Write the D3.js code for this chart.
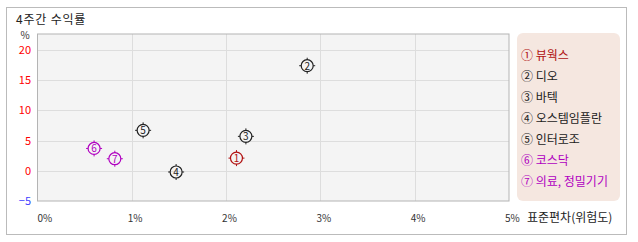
<!DOCTYPE html>
<html>
<head>
<meta charset="utf-8">
<script src="https://cdn.jsdelivr.net/npm/d3@7"></script>
<style>
  body { margin: 0; background: #fff; }
  svg { display: block; font-family: "Noto Sans CJK KR", "Noto Sans", sans-serif; }
</style>
</head>
<body>
<div id="chart"></div>
<script>
// data
const names = ["뷰웍스", "디오", "바텍", "오스템임플란", "인터로조", "코스닥", "의료, 정밀기기"];
const marks = ["①", "②", "③", "④", "⑤", "⑥", "⑦"];
const risk = [2.11, 2.86, 2.21, 1.47, 1.12, 0.60, 0.82];   // 표준편차 %
const ret = [2.1, 17.4, 5.7, -0.2, 6.7, 3.7, 2.0];          // 4주간 수익률 %
const colors = ["#b01010", "#222", "#222", "#222", "#222", "#b000c0", "#b000c0"];
const xTicks = [0, 1, 2, 3, 4, 5];
const yTicks = [-5, 0, 5, 10, 15, 20];

const width = 638, height = 242;
const plot = { left: 37.5, right: 509, top: 34, bottom: 201 };

const svg = d3.select("#chart").append("svg")
    .attr("width", width)
    .attr("height", height);

// outer frame
svg.append("rect")
    .attr("x", 6.5).attr("y", 7.5)
    .attr("width", 620).attr("height", 227)
    .attr("fill", "#fff")
    .attr("stroke", "#bbb");

svg.append("text")
    .attr("x", 16).attr("y", 24)
    .attr("font-size", 12).attr("fill", "#222")
    .attr("letter-spacing", 0.8)
    .text("4주간  수익률");

const x = d3.scaleLinear().domain([0, 5]).range([plot.left, plot.right]);
const y = d3.scaleLinear().domain([-5, 20]).range([plot.bottom, 50]);

svg.append("rect")
    .attr("x", plot.left).attr("y", plot.top)
    .attr("width", plot.right - plot.left).attr("height", plot.bottom - plot.top)
    .attr("fill", "#f4f4f4");

// grid
svg.append("g").selectAll("line")
    .data(yTicks.filter(d => d > -5))
    .join("line")
    .attr("x1", plot.left).attr("x2", plot.right)
    .attr("y1", d => Math.round(y(d)) + 0.5).attr("y2", d => Math.round(y(d)) + 0.5)
    .attr("stroke", "#ddd");

svg.append("g").selectAll("line")
    .data(xTicks.filter(d => d > 0 && d < 5))
    .join("line")
    .attr("x1", d => Math.round(x(d)) + 0.5).attr("x2", d => Math.round(x(d)) + 0.5)
    .attr("y1", plot.top).attr("y2", plot.bottom)
    .attr("stroke", "#ddd");

// plot border
svg.append("rect")
    .attr("x", plot.left).attr("y", plot.top)
    .attr("width", plot.right - plot.left).attr("height", plot.bottom - plot.top)
    .attr("fill", "none")
    .attr("stroke", "#b4b4b4");

// y labels
svg.append("g").selectAll("text")
    .data(yTicks)
    .join("text")
    .attr("x", 31).attr("y", d => y(d) + 4)
    .attr("text-anchor", "end")
    .attr("font-size", 11)
    .attr("fill", d => d < 0 ? "#4040ff" : "#f00")
    .text(d => d < 0 ? "\u2212" + Math.abs(d) : d);

svg.append("text")
    .attr("x", 25).attr("y", 39)
    .attr("text-anchor", "middle")
    .attr("font-size", 10).attr("fill", "#333")
    .text("%");

// x labels
svg.append("g").selectAll("text")
    .data(xTicks)
    .join("text")
    .attr("x", d => d === 0 ? x(d) : x(d) - 4)
    .attr("y", 222)
    .attr("font-size", 10)
    .attr("fill", "#333")
    .text(d => d + "%");

svg.append("text")
    .attr("x", 527).attr("y", 222)
    .attr("font-size", 12).attr("fill", "#222")
    .text("표준편차(위험도)");

// points
const pts = svg.append("g").selectAll("g")
    .data(d3.range(names.length))
    .join("g")
    .attr("transform", i => `translate(${x(risk[i])},${y(ret[i])})`);

pts.append("circle")
    .attr("r", 6)
    .attr("fill", "none")
    .attr("stroke", i => colors[i])
    .attr("stroke-width", 1.2);

pts.selectAll("line")
    .data(i => [[0, -6, 0, -8, i], [0, 6, 0, 8, i], [-6, 0, -8, 0, i], [6, 0, 8, 0, i]])
    .join("line")
    .attr("x1", d => d[0]).attr("y1", d => d[1])
    .attr("x2", d => d[2]).attr("y2", d => d[3])
    .attr("stroke", d => colors[d[4]]);

pts.append("text")
    .attr("text-anchor", "middle")
    .attr("y", 4)
    .attr("font-size", 10)
    .attr("fill", i => colors[i])
    .text(i => i + 1);

// legend
svg.append("rect")
    .attr("x", 517).attr("y", 33)
    .attr("width", 103).attr("height", 168)
    .attr("rx", 6)
    .attr("fill", "#f5e7e0");

svg.append("g").selectAll("text")
    .data(d3.range(names.length))
    .join("text")
    .attr("x", 521)
    .attr("y", i => 60 + i * 21)
    .attr("font-size", 12)
    .attr("fill", i => colors[i])
    .text(i => marks[i] + " " + names[i]);
</script>
</body>
</html>
